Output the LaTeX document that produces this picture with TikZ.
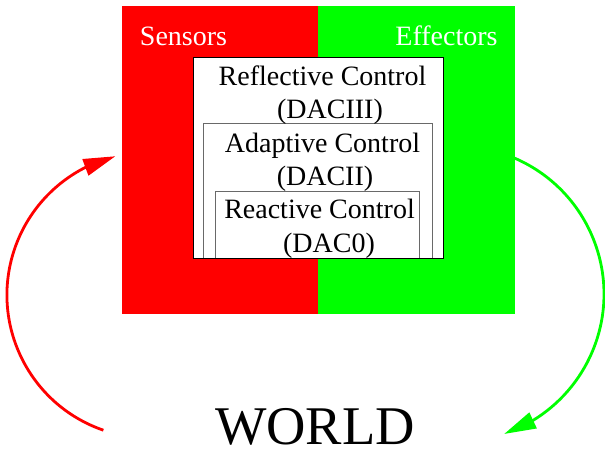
\documentclass[tikz,border=0pt]{standalone}
\usepackage{fontspec}
\setmainfont{Liberation Serif}
\usetikzlibrary{arrows.meta,bending}
\definecolor{sensred}{RGB}{255,0,0}
\definecolor{effgreen}{RGB}{0,255,0}
\definecolor{layergray}{RGB}{105,105,105}
\begin{document}
\begin{tikzpicture}[x=1pt,y=-1pt,
  txt/.style={inner sep=0pt, anchor=base, font=\fontsize{28}{33}\selectfont},
  side/.style={txt, text=white},
  layer/.style={draw=layergray, line width=0.9pt},
  loop/.style={line width=2.8pt, -{Triangle[length=32pt,width=17pt,flex]}}]
\useasboundingbox (0,0) rectangle (605,453);

% sensor / effector halves
\fill[sensred] (122,6) rectangle (318,314);
\fill[effgreen] (318,6) rectangle (515,314);
\node[side] (sens) at (183.5,45) {Sensors};
\node[side] (eff) at (446.5,45) {Effectors};

% nested control layers
\fill[white] (193,57) rectangle (443,258);
\draw[layer] (203,258) |- (432,123) -- (432,258);
\draw[layer] (215,258) |- (419,191) -- (419,258);
\draw[line width=0.9pt] (193,57) rectangle (443,258);

\node[txt] (refl) at (322.5,85) {Reflective Control};
\node[txt] (refl2) at (330,118) {(DACIII)};
\node[txt] (adap) at (322.5,152) {Adaptive Control};
\node[txt] (adap2) at (325,185) {(DACII)};
\node[txt] (reac) at (319.5,218) {Reactive Control};
\node[txt] (reac2) at (329,252) {(DAC0)};

% world and the sensing / acting loop
\node[inner sep=0pt, anchor=base, font=\fontsize{54.5}{60}\selectfont] (world) at (315,444) {WORLD};
\coordinate (worldL) at (103.4,430.2);
\coordinate (effOut) at (513.8,157.8);
\draw[loop, sensred] (worldL) arc[start angle=109, end angle=256, radius=143];
\draw[loop, effgreen] (effOut) arc[start angle=-67, end angle=71, radius=148];
\end{tikzpicture}
\end{document}
